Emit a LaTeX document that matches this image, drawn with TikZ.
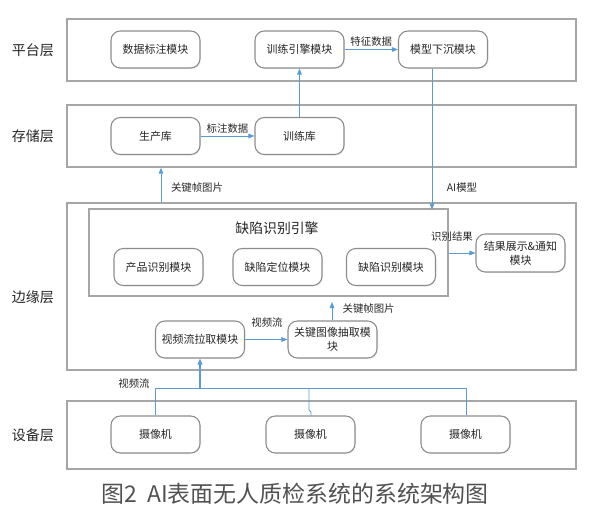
\documentclass[tikz,border=0pt]{standalone}
\usepackage{fontspec}
\setmainfont{Noto Sans CJK SC}
\usetikzlibrary{arrows.meta,shadows}
\definecolor{laycol}{HTML}{A6A6A6}
\definecolor{modcol}{HTML}{8C8C8C}
\definecolor{arrcol}{HTML}{5B9BD5}
\definecolor{txtcol}{HTML}{262626}
\begin{document}
\begin{tikzpicture}[x=0.75pt,y=-0.75pt,
  every node/.style={text=txtcol},
  layer/.style={draw=laycol,line width=1.1pt,minimum width=381.75pt,inner sep=0pt},
  modbox/.style={draw=modcol,line width=0.8pt,rounded corners=7pt,fill=white,
    minimum width=66.75pt,minimum height=27.75pt,inner sep=1pt,align=center,
    font=\fontsize{8.2}{10.5}\selectfont,
    drop shadow={opacity=0.12,shadow xshift=0.8pt,shadow yshift=-0.8pt}},
  laylabel/.style={font=\fontsize{10.5}{12}\selectfont},
  elabel/.style={font=\fontsize{7.8}{9}\selectfont,inner sep=1pt},
  conn/.style={draw=arrcol,line width=0.6pt},
  arrow/.style={conn,-{Triangle[length=4.5pt,width=3.5pt]}}
]
\useasboundingbox (0,0) rectangle (596,512);
% layers
\node[layer,minimum height=46.5pt] (plat) at (321.5,50) {};
\node[layer,minimum height=46.5pt] (stor) at (321.5,136) {};
\node[layer,minimum height=125.25pt] (edge) at (321.5,286.5) {};
\node[layer,minimum height=51pt] (dev) at (321.5,435) {};
\node[laylabel] (lp) at (33,50) {平台层};
\node[laylabel] (ls) at (33,136) {存储层};
\node[laylabel] (le) at (33,297) {边缘层};
\node[laylabel] (ld) at (33,435) {设备层};
% engine box
\node[draw=laycol,line width=1pt,minimum width=269.25pt,minimum height=65.25pt,inner sep=0pt] (eng) at (268.5,252.5) {};
\node[font=\fontsize{10.4}{12}\selectfont] (engt) at (277,228) {缺陷识别引擎};
% modules
\node[modbox] (m1) at (155.5,49.5) {数据标注模块};
\node[modbox] (m2) at (299.5,49.5) {训练引擎模块};
\node[modbox] (m3) at (443,49.5) {模型下沉模块};
\node[modbox] (s1) at (155.5,136) {生产库};
\node[modbox] (s2) at (299.5,136) {训练库};
\node[modbox] (e1) at (158.5,267) {产品识别模块};
\node[modbox] (e2) at (277.5,267) {缺陷定位模块};
\node[modbox] (e3) at (391,267) {缺陷识别模块};
\node[modbox,minimum height=28.5pt] (res) at (520.5,253) {结果展示\&通知\\模块};
\node[modbox] (v1) at (200,339.5) {视频流拉取模块};
\node[modbox] (v2) at (332.5,339.5) {关键图像抽取模\\块};
\node[modbox] (c1) at (155.5,434.5) {摄像机};
\node[modbox] (c2) at (310.5,434.5) {摄像机};
\node[modbox] (c3) at (465.5,434.5) {摄像机};
% connectors
\draw[arrow] (m2.east) -- node[elabel,above,yshift=1pt] {特征数据} (m3.west);
\draw[arrow] (s1.east) -- node[elabel,above,yshift=1pt] {标注数据} (s2.west);
\draw[arrow] (s2.north) -- (m2.south);
\draw[arrow] (m3.south -| 432,0) -- (432,209.5) coordinate (engtop);
\node[elabel] (lai) at (462,188) {AI模型};
\draw[arrow] (edge.north -| 161,0) -- (stor.south -| 161,0);
\node[elabel] (lkf1) at (197,188) {关键帧图片};
\draw[arrow] (eng.east |- 0,253) -- (res.west |- 0,253);
\node[elabel] (lres) at (452,237) {识别结果};
\draw[arrow] (v1.east) -- (v2.west);
\node[elabel] (lvs1) at (267,323) {视频流};
\coordinate (kfend) at (332,302);
\draw[arrow] (v2.north -| 332,0) -- (kfend);
\node[elabel,anchor=west] (lkf2) at (341,309) {关键帧图片};
% video stream from cameras
\coordinate (jn) at (200,388);
\draw[conn] (c1.north -| 155.5,0) |- (jn);
\draw[conn] (c2.north -| 311,0) -- (311,412) -- (309,410) -- (309,388);
\draw[conn] (c3.north -| 466,0) |- (jn);
\draw[arrow,line width=1.2pt] (jn) -- (v1.south -| 200,0);
\node[elabel] (lvs2) at (134,384) {视频流};
% caption
\node[font=\fontsize{17.2}{19}\selectfont,text=txtcol!80] (cap) at (295,494) {图2\ \ AI表面无人质检系统的系统架构图};
\end{tikzpicture}
\end{document}
